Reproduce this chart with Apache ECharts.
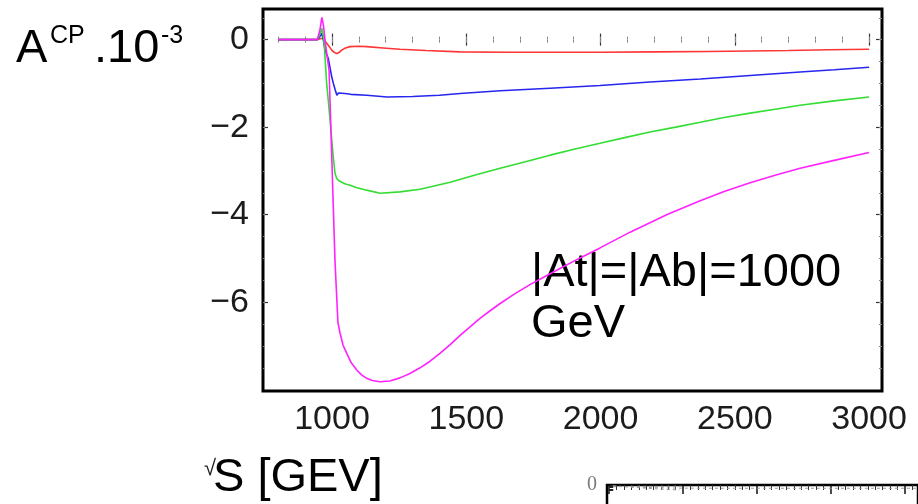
<!DOCTYPE html>
<html>
<head>
<meta charset="utf-8">
<script src="https://cdn.jsdelivr.net/npm/echarts@6/dist/echarts.min.js"></script>
<style>
  html, body { margin: 0; padding: 0; background: #ffffff; }
  #chart { width: 918px; height: 504px; }
</style>
</head>
<body>
<div id="chart"></div>
<script>
// CP asymmetry A_CP (in units of 1e-3) versus sqrt(s) in GeV, |At| = |Ab| = 1000 GeV

const redS = [800, 945, 955, 968, 981, 990, 999, 1008, 1018, 1027, 1036, 1050, 1067, 1100, 1129, 1190, 1253, 1350, 1477, 1650, 1800, 2000, 2200, 2400, 2550, 2700, 2850, 3000];
const redA = [0, 0, 0.02, 0.03, -0.09, -0.16, -0.24, -0.29, -0.32, -0.29, -0.24, -0.19, -0.16, -0.15, -0.16, -0.19, -0.22, -0.25, -0.28, -0.29, -0.29, -0.29, -0.28, -0.27, -0.26, -0.25, -0.23, -0.22];

const blueS = [800, 945, 955, 962, 968, 974, 986, 999, 1005, 1012, 1018, 1024, 1030, 1048, 1070, 1129, 1205, 1300, 1400, 1477, 1626, 1812, 1998, 2184, 2371, 2557, 2743, 2870, 3000];
const blueA = [0, 0, 0.07, 0.15, -0.01, -0.24, -0.43, -0.85, -1.0, -1.15, -1.27, -1.22, -1.19, -1.23, -1.25, -1.27, -1.31, -1.30, -1.27, -1.23, -1.17, -1.11, -1.05, -0.97, -0.90, -0.82, -0.74, -0.69, -0.63];

const greenS = [800, 945, 955, 962, 970, 980, 986, 993, 999, 1005, 1011, 1017, 1025, 1036, 1050, 1067, 1090, 1129, 1179, 1253, 1328, 1440, 1530, 1626, 1720, 1812, 1905, 1998, 2090, 2184, 2280, 2371, 2460, 2557, 2650, 2743, 2870, 3000];
const greenA = [0, 0, 0.12, 0.26, -0.01, -1.0, -1.38, -1.85, -2.30, -2.70, -3.05, -3.17, -3.22, -3.26, -3.30, -3.33, -3.38, -3.44, -3.51, -3.48, -3.42, -3.26, -3.10, -2.94, -2.79, -2.64, -2.50, -2.37, -2.24, -2.11, -2.00, -1.89, -1.78, -1.68, -1.59, -1.50, -1.40, -1.31];

const magentaS = [800, 945, 955, 962, 968, 974, 981, 989, 996, 1004, 1011, 1018, 1022, 1030, 1041, 1055, 1071, 1092, 1110, 1129, 1150, 1179, 1215, 1253, 1290, 1328, 1365, 1402, 1440, 1477, 1515, 1551, 1590, 1626, 1680, 1737, 1800, 1849, 1920, 1998, 2110, 2250, 2371, 2460, 2557, 2650, 2743, 2870, 3000];
const magentaA = [0, 0, 0.22, 0.51, 0.33, -0.01, -0.35, -0.70, -2.07, -3.67, -5.04, -5.95, -6.46, -6.71, -6.98, -7.17, -7.38, -7.55, -7.66, -7.74, -7.79, -7.82, -7.80, -7.73, -7.63, -7.50, -7.35, -7.17, -6.97, -6.76, -6.56, -6.37, -6.19, -6.03, -5.81, -5.60, -5.39, -5.23, -5.00, -4.76, -4.40, -3.99, -3.68, -3.47, -3.27, -3.10, -2.94, -2.76, -2.58];

// axis ticks and labels
const xTickLabels = [1000, 1500, 2000, 2500, 3000];
const xMinorTicks = [800, 900, 1000, 1100, 1200, 1300, 1400, 1500, 1600, 1700, 1800, 1900, 2000, 2100, 2200, 2300, 2400, 2500, 2600, 2700, 2800, 2900, 3000];
const yTickLabels = [0, -2, -4, -6];
const yMinorTicks = [0.5, 0, -0.5, -1, -1.5, -2, -2.5, -3, -3.5, -4, -4.5, -5, -5.5, -6, -6.5, -7, -7.5];

// neighbouring panel (partly visible at the lower right)
const panelTicks = [0, 1, 2, 3, 4];
const panelMinorTicks = [0.1, 0.2, 0.3, 0.4, 0.5, 0.6, 0.7, 0.8, 0.9, 1.1, 1.2, 1.3, 1.4, 1.5, 1.6, 1.7, 1.8, 1.9, 2.1, 2.2, 2.3, 2.4, 2.5, 2.6, 2.7, 2.8, 2.9, 3.1, 3.2, 3.3, 3.4, 3.5, 3.6, 3.7, 3.8, 3.9, 4.1];
const panelYTicks = [0, -1, -2, -3, -4];
const panelY0Label = [0];
const panelAX = [0.05, 0.3, 0.6, 0.95, 1.5, 2.5, 3.5, 4.2];
const panelAY = [-1.0, -1.6, -2.1, -2.5, -2.6, -2.6, -2.6, -2.6];
const panelBX = [0.05, 0.25, 0.5, 0.8, 0.95];
const panelBY = [-0.6, -1.4, -2.6, -3.6, -4.0];
const panelCX = [0.05, 0.4, 0.8, 1.0];
const panelCY = [-1.4, -1.0, -1.1, -1.0];

const pairs = (xs, ys) => xs.map((x, i) => [x, ys[i]]);
const minusFmt = v => (v < 0 ? '\u2212' + Math.abs(v) : String(v));
const plainFmt = v => String(v);

const SANS = 'Liberation Sans, Arial, sans-serif';
const X_MIN = 743, X_MAX = 3048, Y_MIN = -8.03, Y_MAX = 0.70;

function tickAxis(common, extra) {
  return Object.assign({}, common, {
    axisLine: { show: false },
    splitLine: { show: false },
    axisLabel: { show: false }
  }, extra);
}

const xCommon = { type: 'value', gridIndex: 0, min: X_MIN, max: X_MAX };
const yCommon = { type: 'value', gridIndex: 0, min: Y_MIN, max: Y_MAX };
const majorTick = (vals, len) => ({ show: true, inside: true, length: len, customValues: vals, lineStyle: { color: '#333', width: 1.2 } });
const minorTick = (vals, len) => ({ show: true, inside: true, length: len, customValues: vals, lineStyle: { color: '#888', width: 1 } });

const pXCommon = { type: 'value', gridIndex: 1, min: -0.03, max: 4.18 };
const pYCommon = { type: 'value', gridIndex: 1, min: -40, max: 0 };

const lineSeries = (name, xs, ys, color) => ({
  name, type: 'line', xAxisIndex: 0, yAxisIndex: 0,
  data: pairs(xs, ys), showSymbol: false, smooth: false,
  lineStyle: { color, width: 1.6 }, itemStyle: { color },
  silent: true
});
const panelSeries = (xs, ys) => ({
  type: 'line', xAxisIndex: 4, yAxisIndex: 4,
  data: pairs(xs, ys), showSymbol: false,
  lineStyle: { color: '#9a9a9a', width: 1, type: [3, 3] },
  silent: true
});

const chart = echarts.init(document.getElementById('chart'), null, { renderer: 'canvas' });
chart.setOption({
  animation: false,
  backgroundColor: '#ffffff',
  grid: [
    { left: 263, top: 9, width: 619, height: 382, show: true, borderColor: '#000', borderWidth: 3, backgroundColor: 'transparent' },
    { left: 607, top: 485, width: 400, height: 200, show: true, borderColor: '#000', borderWidth: 2.5, backgroundColor: 'transparent' }
  ],
  xAxis: [
    Object.assign({}, xCommon, {
      position: 'bottom',
      axisLine: { show: false }, splitLine: { show: false },
      axisTick: majorTick(xTickLabels, 6),
      axisLabel: { customValues: xTickLabels, formatter: plainFmt, fontSize: 34, fontFamily: SANS, color: '#1c1c1c', margin: 12 }
    }),
    tickAxis(xCommon, { position: 'bottom', axisTick: minorTick(xMinorTicks, 3) }),
    tickAxis(xCommon, { position: 'top', axisTick: majorTick(xTickLabels, 6) }),
    tickAxis(xCommon, { position: 'top', axisTick: minorTick(xMinorTicks, 3) }),
    tickAxis(pXCommon, { position: 'top', axisTick: { show: true, inside: true, length: 9, customValues: panelTicks, lineStyle: { color: '#111', width: 1.5 } } }),
    tickAxis(pXCommon, { position: 'top', axisTick: { show: true, inside: true, length: 5, customValues: panelMinorTicks, lineStyle: { color: '#333', width: 1 } } })
  ],
  yAxis: [
    Object.assign({}, yCommon, {
      position: 'left',
      axisLine: { show: false }, splitLine: { show: false },
      axisTick: majorTick(yTickLabels, 5),
      axisLabel: { customValues: yTickLabels, formatter: minusFmt, fontSize: 34, fontFamily: SANS, color: '#1c1c1c', margin: 14 }
    }),
    tickAxis(yCommon, { position: 'right', axisTick: majorTick(yTickLabels, 6) }),
    tickAxis(yCommon, { position: 'right', axisTick: minorTick(yMinorTicks, 3) }),
    tickAxis(yCommon, { position: 'left', axisTick: minorTick(yMinorTicks, 2) }),
    Object.assign({}, pYCommon, {
      position: 'left',
      axisLine: { show: false }, splitLine: { show: false },
      axisTick: { show: true, inside: true, length: 4, customValues: panelYTicks, lineStyle: { color: '#222', width: 1 } },
      axisLabel: { customValues: panelY0Label, fontSize: 20, fontFamily: 'Liberation Serif, serif', color: '#7a7a7a', margin: 10 }
    })
  ],
  series: [
    lineSeries('red', redS, redA, '#ff3535'),
    lineSeries('blue', blueS, blueA, '#2626f0'),
    lineSeries('green', greenS, greenA, '#33dd33'),
    lineSeries('magenta', magentaS, magentaA, '#ff22ff'),
    panelSeries(panelAX, panelAY),
    panelSeries(panelBX, panelBY),
    panelSeries(panelCX, panelCY)
  ],
  graphic: [
    { type: 'text', x: 16, y: 49, style: { text: 'A', fontSize: 47, fontFamily: SANS, fill: '#000', align: 'left', verticalAlign: 'middle' } },
    { type: 'text', x: 50, y: 36, style: { text: 'CP', fontSize: 25, fontFamily: SANS, fill: '#000', align: 'left', verticalAlign: 'middle' } },
    { type: 'text', x: 94, y: 49, style: { text: '.10', fontSize: 47, fontFamily: SANS, fill: '#000', align: 'left', verticalAlign: 'middle' } },
    { type: 'text', x: 161, y: 36, style: { text: '-3', fontSize: 25, fontFamily: SANS, fill: '#000', align: 'left', verticalAlign: 'middle' } },
    { type: 'text', x: 531, y: 273.5, style: { text: '|At|=|Ab|=1000', fontSize: 47, fontFamily: SANS, fill: '#000', align: 'left', verticalAlign: 'middle' } },
    { type: 'text', x: 531, y: 324.5, style: { text: 'GeV', fontSize: 47, fontFamily: SANS, fill: '#000', align: 'left', verticalAlign: 'middle' } },
    { type: 'text', x: 204, y: 469, style: { text: '\u221A', fontSize: 22, fontFamily: SANS, fill: '#222', align: 'left', verticalAlign: 'middle' } },
    { type: 'text', x: 213, y: 478.5, style: { text: 'S [GEV]', fontSize: 47, fontFamily: SANS, fill: '#000', align: 'left', verticalAlign: 'middle' } }
  ]
});
</script>
</body>
</html>
